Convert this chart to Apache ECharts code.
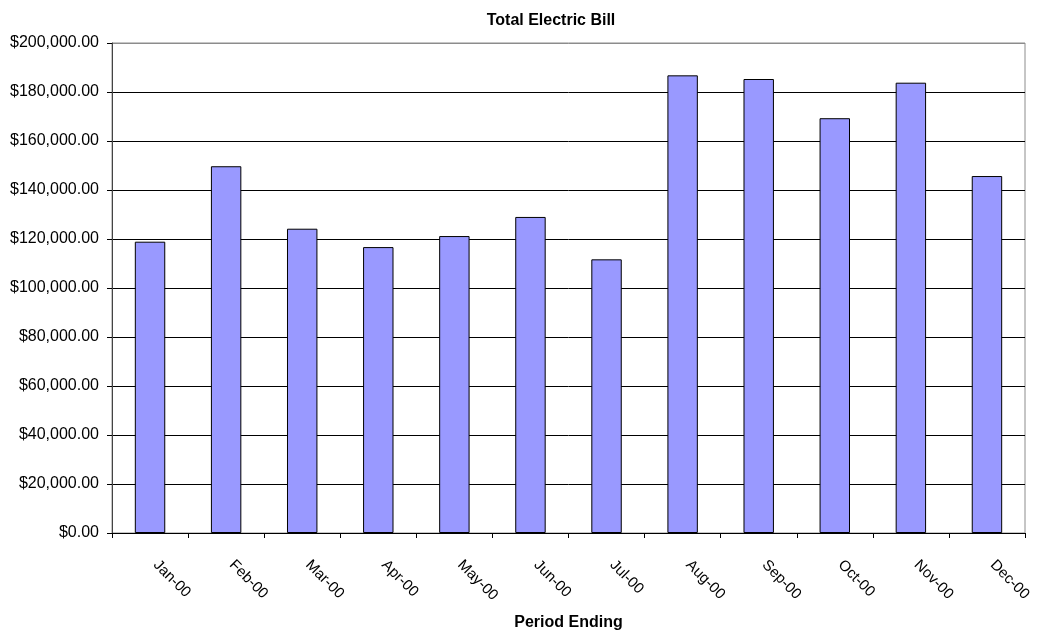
<!DOCTYPE html>
<html>
<head>
<meta charset="utf-8">
<script src="https://cdn.jsdelivr.net/npm/echarts@6/dist/echarts.min.js"></script>
<style>
  html, body { margin: 0; padding: 0; background: #fff; }
  #chart { width: 1039px; height: 639px; }
</style>
</head>
<body>
<div id="chart"></div>
<script>
// Monthly electric bill totals for 2000
const months = ['Jan-00', 'Feb-00', 'Mar-00', 'Apr-00', 'May-00', 'Jun-00',
                'Jul-00', 'Aug-00', 'Sep-00', 'Oct-00', 'Nov-00', 'Dec-00'];
const billTotals = [118900, 149700, 124200, 116700, 121200, 129000,
                    111700, 186800, 185300, 169300, 183800, 145700];
const yTicks = [0, 20000, 40000, 60000, 80000, 100000, 120000, 140000, 160000, 180000, 200000];

const font = 'Liberation Sans, Arial, sans-serif';

function money(v) {
  return '$' + v.toLocaleString('en-US', { minimumFractionDigits: 2, maximumFractionDigits: 2 });
}

// gridlines are black, the top edge of the plot frame is grey
const gridColors = yTicks.map((v, i) => i === yTicks.length - 1 ? '#8c8c8c' : '#000');

const chart = echarts.init(document.getElementById('chart'), null, { renderer: 'canvas' });
chart.setOption({
  animation: false,
  backgroundColor: '#fff',
  title: {
    text: 'Total Electric Bill',
    left: 546,
    textAlign: 'center',
    top: 8,
    textStyle: { fontFamily: font, fontSize: 16, fontWeight: 'bold', color: '#000' }
  },
  grid: {
    left: 112, right: 14, top: 43, bottom: 106,
    show: true, borderColor: '#8c8c8c', borderWidth: 1, backgroundColor: 'transparent'
  },
  xAxis: {
    type: 'category',
    data: months,
    boundaryGap: true,
    name: 'Period Ending',
    nameLocation: 'middle',
    nameGap: 82,
    nameTextStyle: { fontFamily: font, fontSize: 16, fontWeight: 'bold', color: '#000' },
    axisLine: { lineStyle: { color: '#000', width: 1 } },
    axisTick: { show: true, alignWithLabel: false, length: 5, lineStyle: { color: '#000' } },
    axisLabel: {
      rotate: -45, margin: 24, padding: [0, 0, 0, 8],
      fontFamily: font, fontSize: 15, color: '#000', interval: 0
    },
    splitLine: { show: false }
  },
  yAxis: {
    type: 'value',
    min: 0, max: 200000, interval: 20000,
    axisLine: { show: true, lineStyle: { color: '#444', width: 1 } },
    axisTick: { show: true, length: 5, lineStyle: { color: '#000' } },
    axisLabel: {
      fontFamily: font, fontSize: 16, color: '#000', margin: 13,
      formatter: v => money(v)
    },
    splitLine: { show: true, lineStyle: { color: gridColors, width: 1 } }
  },
  series: [{
    type: 'bar',
    data: billTotals,
    barWidth: '40%',
    itemStyle: { color: '#9999ff', borderColor: '#000', borderWidth: 1 }
  }]
});
</script>
</body>
</html>
